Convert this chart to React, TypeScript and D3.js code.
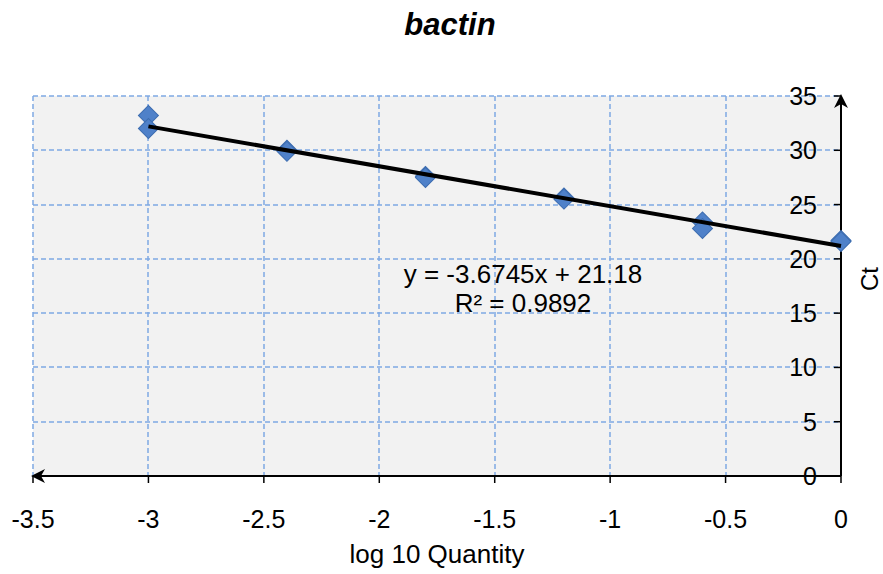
import React from 'react';
import * as d3 from 'd3';

const logQty = [-3, -3, -2.4, -2.4, -1.8, -1.8, -1.2, -1.2, -0.6, -0.6, 0, 0];
const ctValues = [33.2, 32.0, 30.0, 29.9, 27.6, 27.5, 25.6, 25.5, 23.4, 22.8, 21.7, 21.6];
const xTicks = [-3.5, -3, -2.5, -2, -1.5, -1, -0.5, 0];
const yTicks = [0, 5, 10, 15, 20, 25, 30, 35];
const slope = -3.6745;
const intercept = 21.18;
const rSquared = 0.9892;

const App = () => {
  const left = 33, right = 841, top = 96, bottom = 476;
  const x = d3.scaleLinear().domain([-3.5, 0]).range([left, right]);
  const y = d3.scaleLinear().domain([0, 35]).range([bottom, top]);
  const font = '"Liberation Sans", Arial, sans-serif';
  const gridColor = '#7fa9e3';
  const square = d3.symbol().type(d3.symbolSquare).size(200);
  const line = d3.line<number>().x(d => x(d)).y(d => y(slope * d + intercept));

  return (
    <svg width={883} height={574} style={{ position: 'absolute', left: 0, top: 0 }} fontFamily={font}>
      <defs>
        <marker id="arr" viewBox="0 0 14 14" refX="12" refY="7" markerWidth="14" markerHeight="14"
          markerUnits="userSpaceOnUse" orient="auto-start-reverse">
          <path d="M0,0 L14,7 L0,14 L4,7 Z" fill="#000" />
        </marker>
      </defs>
      <rect width={883} height={574} fill="#fff" />
      <rect x={left} y={top} width={right - left} height={bottom - top} fill="#f2f2f2" />
      {xTicks.map(t => (
        <line key={'gx' + t} x1={Math.round(x(t))} x2={Math.round(x(t))} y1={top} y2={bottom}
          stroke={gridColor} strokeWidth={1.5} strokeDasharray="5,3" />
      ))}
      {yTicks.map(t => (
        <line key={'gy' + t} x1={left} x2={right} y1={Math.round(y(t))} y2={Math.round(y(t))}
          stroke={gridColor} strokeWidth={1.5} strokeDasharray="5,3" />
      ))}
      {/* axes */}
      <line x1={right} x2={left} y1={bottom} y2={bottom} stroke="#000" strokeWidth={2} markerEnd="url(#arr)" />
      <line x1={right} x2={right} y1={bottom} y2={top} stroke="#000" strokeWidth={2} markerEnd="url(#arr)" />
      {xTicks.map(t => (
        <g key={'tx' + t}>
          <line x1={x(t)} x2={x(t)} y1={bottom} y2={bottom + 7} stroke="#000" strokeWidth={1.5} />
          <text x={x(t)} y={bottom + 52} textAnchor="middle" fontSize={25}>{t}</text>
        </g>
      ))}
      {yTicks.map(t => (
        <g key={'ty' + t}>
          <line x1={right - 7} x2={right} y1={y(t)} y2={y(t)} stroke="#000" strokeWidth={1.5} />
          <text x={right - 24} y={y(t) + 9} textAnchor="end" fontSize={25}>{t}</text>
        </g>
      ))}
      {logQty.map((q, i) => (
        <path key={'p' + i} d={square() as string}
          transform={`translate(${x(q)},${y(ctValues[i])}) rotate(45)`}
          fill="#4f81c9" stroke="#3d6db0" strokeWidth={1} />
      ))}
      <path d={line([-3, 0]) as string} stroke="#000" strokeWidth={4} fill="none" />
      <text x={523} y={283} textAnchor="middle" fontSize={26}>{`y = ${slope}x + ${intercept}`}</text>
      <text x={523} y={312} textAnchor="middle" fontSize={26}>{`R² = ${rSquared}`}</text>
      <text x={450} y={35} textAnchor="middle" fontSize={31} fontWeight="bold" fontStyle="italic">bactin</text>
      <text x={437} y={563} textAnchor="middle" fontSize={26}>log 10 Quantity</text>
      <text transform="translate(878,279) rotate(-90)" textAnchor="middle" fontSize={24}>Ct</text>
    </svg>
  );
};

export default App;
